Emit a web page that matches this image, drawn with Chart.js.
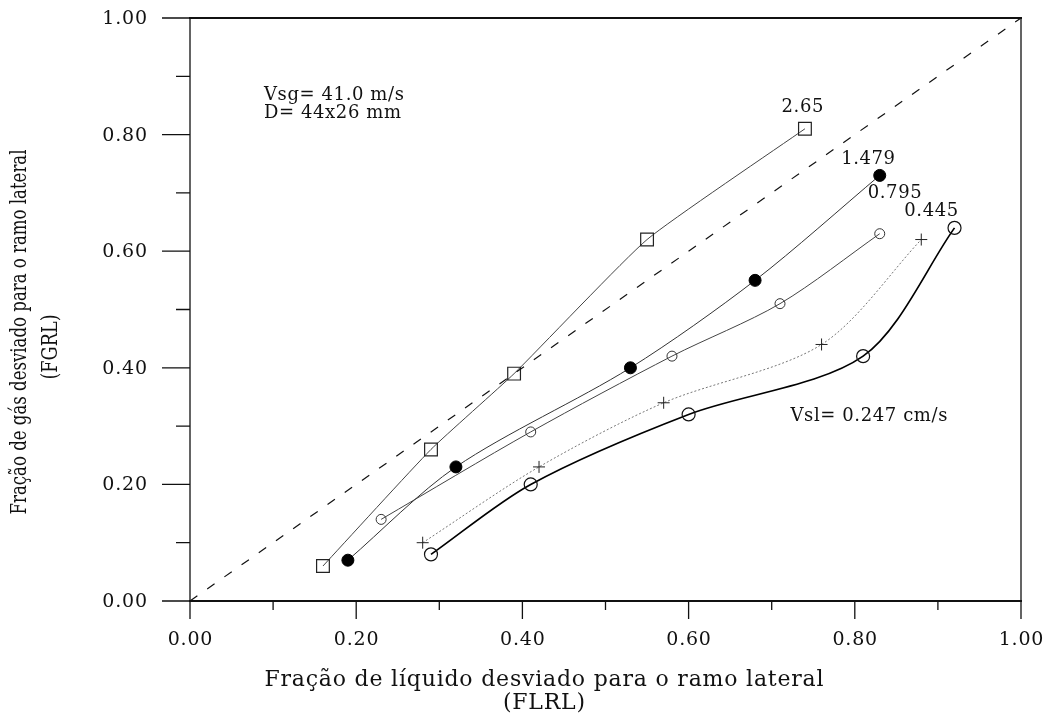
<!DOCTYPE html>
<html>
<head>
<meta charset="utf-8">
<script src="https://cdn.jsdelivr.net/npm/chart.js@4.4.0/dist/chart.umd.min.js"></script>
<style>
    html, body { margin: 0; padding: 0; background: #fff; }
    #wrap { width: 1049px; height: 716px; }
</style>
</head>
<body>
<div id="wrap"><canvas id="fgrlChart" width="1049" height="716"></canvas></div>
<script>
    // tick values and labels
    const tickValues = [0, 0.2, 0.4, 0.6, 0.8, 1.0];
    const xTickLabels = ['0.00', '0.20', '0.40', '0.60', '0.80', '1.00'];
    const yTickLabels = ['0.00', '0.20', '0.40', '0.60', '0.80', '1.00'];

    // Vsl values for each curve (cm/s)
    const vslLabels = ['2.65', '1.479', '0.795', '0.445', '0.247'];

    // FLRL (x) / FGRL (y) per curve
    const flrl265 = [0.16, 0.29, 0.39, 0.55, 0.74];
    const fgrl265 = [0.06, 0.26, 0.39, 0.62, 0.81];
    const flrl1479 = [0.19, 0.32, 0.53, 0.68, 0.83];
    const fgrl1479 = [0.07, 0.23, 0.40, 0.55, 0.73];
    const flrl0795 = [0.23, 0.41, 0.58, 0.71, 0.83];
    const fgrl0795 = [0.14, 0.29, 0.42, 0.51, 0.63];
    const flrl0445 = [0.28, 0.42, 0.57, 0.76, 0.88];
    const fgrl0445 = [0.10, 0.23, 0.34, 0.44, 0.62];
    const flrl0247 = [0.29, 0.41, 0.60, 0.81, 0.92];
    const fgrl0247 = [0.08, 0.20, 0.32, 0.42, 0.64];

    // 45 degree reference line
    const diagX = [0, 1];
    const diagY = [0, 1];

    function pts(xs, ys) {
        return xs.map(function (x, i) { return { x: x, y: ys[i] }; });
    }

    const SERIF = '"DejaVu Serif", "Liberation Serif", serif';

    // free text inside the plot, in data coordinates
    const notes = [
        { text: 'Vsg= 41.0 m/s', x: 0.089, y: 0.868, align: 'left' },
        { text: 'D= 44x26 mm', x: 0.089, y: 0.837, align: 'left' },
        { text: vslLabels[0], x: 0.737, y: 0.847, align: 'center' },
        { text: vslLabels[1], x: 0.816, y: 0.758, align: 'center' },
        { text: vslLabels[2], x: 0.848, y: 0.700, align: 'center' },
        { text: vslLabels[3], x: 0.892, y: 0.669, align: 'center' },
        { text: 'Vsl= ' + vslLabels[4] + ' cm/s', x: 0.817, y: 0.316, align: 'center' }
    ];

    // text with letter spacing; keeps alignment honest by measuring the spaced width
    function spacedText(ctx, text, x, y, align, spacing) {
        ctx.letterSpacing = spacing + 'px';
        const w = ctx.measureText(text).width - spacing;
        let left = x;
        if (align === 'center') left = x - w / 2;
        else if (align === 'right') left = x - w;
        ctx.textAlign = 'left';
        ctx.fillText(text, left, y);
        ctx.letterSpacing = '0px';
    }

    // frame, tick marks, tick labels, axis titles and notes
    const decor = {
        id: 'decor',
        afterDraw: function (chart) {
            const ctx = chart.ctx;
            const a = chart.chartArea;
            const xs = chart.scales.x;
            const ys = chart.scales.y;
            ctx.save();
            ctx.strokeStyle = '#111';
            ctx.lineWidth = 1.3;
            ctx.strokeRect(a.left, a.top, a.right - a.left, a.bottom - a.top);
            ctx.lineWidth = 2;
            ctx.beginPath();
            ctx.moveTo(a.left - 1, a.bottom);
            ctx.lineTo(a.right + 1, a.bottom);
            ctx.moveTo(a.left - 1, a.top);
            ctx.lineTo(a.right + 1, a.top);
            ctx.stroke();

            ctx.lineWidth = 1.3;
            ctx.beginPath();
            for (let i = 0; i <= 10; i++) {
                const major = i % 2 === 0;
                const px = xs.getPixelForValue(i / 10);
                ctx.moveTo(px, a.bottom);
                ctx.lineTo(px, a.bottom + (major ? 18 : 9));
                const py = ys.getPixelForValue(i / 10);
                ctx.moveTo(a.left, py);
                ctx.lineTo(a.left - (major ? 28 : 14), py);
            }
            ctx.stroke();

            ctx.fillStyle = '#111';
            ctx.textBaseline = 'middle';
            ctx.font = '19px ' + SERIF;
            tickValues.forEach(function (v, i) {
                spacedText(ctx, xTickLabels[i], xs.getPixelForValue(v), a.bottom + 39, 'center', 0.8);
                spacedText(ctx, yTickLabels[i], a.left - 43, ys.getPixelForValue(v) + 1, 'right', 0.8);
            });

            ctx.font = '18px ' + SERIF;
            notes.forEach(function (n) {
                spacedText(ctx, n.text, xs.getPixelForValue(n.x), ys.getPixelForValue(n.y), n.align, 0.6);
            });

            // x title
            ctx.font = '22px ' + SERIF;
            spacedText(ctx, 'Fração de líquido desviado para o ramo lateral', 544, 680, 'center', 0.8);
            spacedText(ctx, '(FLRL)', 544, 703, 'center', 0.8);

            // y title, squeezed to fit the axis height
            ctx.textAlign = 'center';
            ctx.font = '22px ' + SERIF;
            ctx.translate(20, 332);
            ctx.rotate(-Math.PI / 2);
            const t1 = 'Fração de gás desviado para o ramo lateral';
            const w1 = ctx.measureText(t1).width;
            ctx.save();
            ctx.scale(365 / w1, 1);
            ctx.fillText(t1, 0, 0);
            ctx.restore();
            const t2 = '(FGRL)';
            const w2 = ctx.measureText(t2).width;
            ctx.save();
            ctx.translate(-15, 31);
            ctx.scale(65 / w2, 1);
            ctx.fillText(t2, 0, 0);
            ctx.restore();
            ctx.restore();
        }
    };

    // fixed axis boxes, no extra padding from the scales
    function fixBox(size) {
        return function (s) {
            if (s.isHorizontal()) s.height = size; else s.width = size;
            s.paddingTop = 0; s.paddingBottom = 0; s.paddingLeft = 0; s.paddingRight = 0;
        };
    }

    const curve = { showLine: true, tension: 0.3 };

    new Chart(document.getElementById('fgrlChart'), {
        type: 'scatter',
        data: {
            datasets: [
                {
                    label: '45°', data: pts(diagX, diagY), showLine: true,
                    borderColor: '#111', borderWidth: 1.2, borderDash: [9, 12], pointRadius: 0
                },
                Object.assign({
                    label: vslLabels[0], data: pts(flrl265, fgrl265),
                    borderColor: '#444', borderWidth: 1, pointStyle: 'rect', pointRadius: 9,
                    pointBackgroundColor: 'rgba(0,0,0,0)', pointBorderColor: '#222', pointBorderWidth: 1.2
                }, curve, { tension: 0.15 }),
                Object.assign({
                    label: vslLabels[1], data: pts(flrl1479, fgrl1479),
                    borderColor: '#333', borderWidth: 1, pointStyle: 'circle', pointRadius: 6,
                    pointBackgroundColor: '#000', pointBorderColor: '#000', pointBorderWidth: 1
                }, curve),
                Object.assign({
                    label: vslLabels[2], data: pts(flrl0795, fgrl0795),
                    borderColor: '#444', borderWidth: 1, pointStyle: 'circle', pointRadius: 5,
                    pointBackgroundColor: 'rgba(0,0,0,0)', pointBorderColor: '#333', pointBorderWidth: 1
                }, curve),
                Object.assign({
                    label: vslLabels[3], data: pts(flrl0445, fgrl0445),
                    borderColor: '#777', borderWidth: 1, borderDash: [2, 2], pointStyle: 'cross', pointRadius: 6,
                    pointBorderColor: '#222', pointBorderWidth: 1
                }, curve),
                Object.assign({
                    label: vslLabels[4], data: pts(flrl0247, fgrl0247),
                    borderColor: '#000', borderWidth: 1.7, pointStyle: 'circle', pointRadius: 6.5,
                    pointBackgroundColor: 'rgba(0,0,0,0)', pointBorderColor: '#111', pointBorderWidth: 1.2
                }, curve)
            ]
        },
        options: {
            responsive: false,
            devicePixelRatio: 1,
            animation: false,
            layout: { padding: { top: 18, right: 28, left: 0, bottom: 0 } },
            plugins: { legend: { display: false }, tooltip: { enabled: false } },
            scales: {
                x: {
                    type: 'linear', min: 0, max: 1,
                    afterFit: fixBox(115),
                    grid: { display: false, drawTicks: false },
                    border: { display: false },
                    ticks: { display: false, stepSize: 0.2 }
                },
                y: {
                    type: 'linear', min: 0, max: 1,
                    afterFit: fixBox(190),
                    grid: { display: false, drawTicks: false },
                    border: { display: false },
                    ticks: { display: false, stepSize: 0.2 }
                }
            }
        },
        plugins: [decor]
    });
</script>
</body>
</html>
